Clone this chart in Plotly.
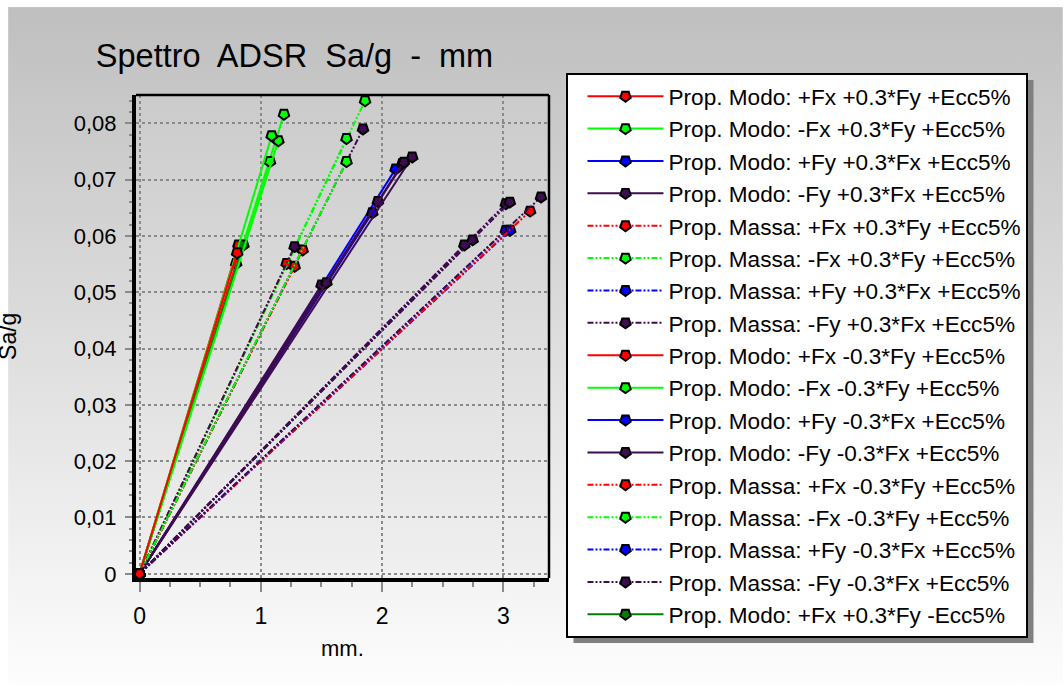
import base64
import plotly.graph_objects as go

# ---------------- data ----------------
labels = [
    "Prop. Modo: +Fx +0.3*Fy +Ecc5%",
    "Prop. Modo: -Fx +0.3*Fy +Ecc5%",
    "Prop. Modo: +Fy +0.3*Fx +Ecc5%",
    "Prop. Modo: -Fy +0.3*Fx +Ecc5%",
    "Prop. Massa: +Fx +0.3*Fy +Ecc5%",
    "Prop. Massa: -Fx +0.3*Fy +Ecc5%",
    "Prop. Massa: +Fy +0.3*Fx +Ecc5%",
    "Prop. Massa: -Fy +0.3*Fx +Ecc5%",
    "Prop. Modo: +Fx -0.3*Fy +Ecc5%",
    "Prop. Modo: -Fx -0.3*Fy +Ecc5%",
    "Prop. Modo: +Fy -0.3*Fx +Ecc5%",
    "Prop. Modo: -Fy -0.3*Fx +Ecc5%",
    "Prop. Massa: +Fx -0.3*Fy +Ecc5%",
    "Prop. Massa: -Fx -0.3*Fy +Ecc5%",
    "Prop. Massa: +Fy -0.3*Fx +Ecc5%",
    "Prop. Massa: -Fy -0.3*Fx +Ecc5%",
    "Prop. Modo: +Fx +0.3*Fy -Ecc5%",
    "Prop. Modo: -Fx +0.3*Fy -Ecc5%",
    "Prop. Modo: +Fy +0.3*Fx -Ecc5%",
    "Prop. Modo: -Fy +0.3*Fx -Ecc5%",
    "Prop. Massa: +Fx +0.3*Fy -Ecc5%",
    "Prop. Massa: -Fx +0.3*Fy -Ecc5%",
    "Prop. Massa: +Fy +0.3*Fx -Ecc5%",
    "Prop. Massa: -Fy +0.3*Fx -Ecc5%",
    "Prop. Modo: +Fx -0.3*Fy -Ecc5%",
    "Prop. Modo: -Fx -0.3*Fy -Ecc5%",
    "Prop. Modo: +Fy -0.3*Fx -Ecc5%",
    "Prop. Modo: -Fy -0.3*Fx -Ecc5%",
    "Prop. Massa: +Fx -0.3*Fy -Ecc5%",
    "Prop. Massa: -Fx -0.3*Fy -Ecc5%",
    "Prop. Massa: +Fy -0.3*Fx -Ecc5%",
    "Prop. Massa: -Fy -0.3*Fx -Ecc5%",
]
# end point of every curve (each curve starts at the origin)
disp_mm = [0.816, 1.191, 2.112, 2.167, 1.213, 1.860, 3.021, 3.021,
           0.797, 1.076, 1.920, 1.966, 1.279, 1.707, 3.057, 2.679,
           0.857, 1.145, 1.501, 2.249, 1.345, 1.843, 3.221, 3.311,
           0.805, 1.090, 1.542, 2.180, 1.279, 1.707, 2.747, 3.054]
sa_g = [0.0584, 0.0816, 0.0719, 0.0728, 0.0551, 0.0840, 0.0610, 0.0657,
        0.0551, 0.0732, 0.0641, 0.0661, 0.0546, 0.0773, 0.0610, 0.0584,
        0.0584, 0.0769, 0.0513, 0.0740, 0.0575, 0.0790, 0.0644, 0.0669,
        0.0570, 0.0778, 0.0517, 0.0731, 0.0581, 0.0732, 0.0593, 0.0660]
legend_count = 17

y_tickvals = [0, 0.01, 0.02, 0.03, 0.04, 0.05, 0.06, 0.07, 0.08]
y_ticktext = ["0", "0,01", "0,02", "0,03", "0,04", "0,05", "0,06", "0,07", "0,08"]
x_tickvals = [0, 1, 2, 3]
x_ticktext = ["0", "1", "2", "3"]

# ---------------- styles ----------------
RED, GRN, BLU, PUR, DGR = "#ff0000", "#00ff00", "#0000ff", "#3e0c50", "#008000"
SOLID, DD = "solid", "6px,2px,2px,2px,2px,2px"
colors = [RED, GRN, BLU, PUR, RED, GRN, BLU, PUR,
          RED, GRN, BLU, PUR, RED, GRN, BLU, PUR,
          DGR, GRN, PUR, PUR, RED, PUR, RED, PUR,
          RED, GRN, PUR, PUR, PUR, GRN, PUR, PUR]
dashes = [SOLID, SOLID, SOLID, SOLID, DD, DD, DD, DD,
          SOLID, SOLID, SOLID, SOLID, DD, DD, DD, DD,
          SOLID, SOLID, SOLID, SOLID, DD, DD, DD, DD,
          SOLID, SOLID, SOLID, SOLID, DD, DD, DD, DD]

W, H = 1064, 686
PL, PR, PT, PB = 136, 549.5, 95, 578.5
X_RANGE = [-0.029, 3.377]
Y_RANGE = [-0.000745, 0.08502]


def px2x(px):
    return (px - PL) / (PR - PL)


def py2y(py):
    return (PB - py) / (PB - PT)


FONT = "Liberation Sans, Arial, sans-serif"

fig = go.Figure()
order = list(range(legend_count)) + [i for i in range(legend_count, len(labels)) if i != 24] + [24]
for i in order:
    fig.add_trace(go.Scatter(
        x=[0, disp_mm[i]], y=[0, sa_g[i]],
        mode="lines+markers", name=labels[i],
        showlegend=i < legend_count,
        line=dict(color=colors[i], width=2, dash=dashes[i]),
        marker=dict(symbol="pentagon", angle=180, size=11, color=colors[i],
                    line=dict(color="black", width=2)),
    ))


def grad_svg(w, h, c0, c1, border=None):
    inner = f'<rect x="0" y="0" width="{w}" height="{h}" fill="url(#g)"/>'
    if border:
        bx, by = border
        inner = (f'<rect x="0" y="0" width="{w}" height="{h}" fill="#ffffff"/>'
                 f'<rect x="{bx}" y="{by}" width="{w - bx}" height="{h - by}" fill="url(#g)"/>')
    svg = (f'<svg xmlns="http://www.w3.org/2000/svg" width="{w}" height="{h}" '
           f'viewBox="0 0 {w} {h}" preserveAspectRatio="none"><defs>'
           f'<linearGradient id="g" x1="0" y1="0" x2="0" y2="1">'
           f'<stop offset="0" stop-color="{c0}"/><stop offset="1" stop-color="{c1}"/>'
           f'</linearGradient></defs>{inner}</svg>')
    return "data:image/svg+xml;base64," + base64.b64encode(svg.encode()).decode()


images = [
    dict(source=grad_svg(W, H, "#bfbfbf", "#fdfdfd", border=(8, 7)), xref="paper", yref="paper",
         x=px2x(0), y=py2y(0), sizex=px2x(W) - px2x(0), sizey=py2y(0) - py2y(H),
         xanchor="left", yanchor="top", sizing="stretch", layer="below"),
    dict(source=grad_svg(int(PR - PL), int(PB - PT), "#cbcbcb", "#f0f0f0"), xref="paper", yref="paper",
         x=0, y=1, sizex=1, sizey=1, xanchor="left", yanchor="top",
         sizing="stretch", layer="below"),
]

shapes = [
    # top and right frame of plot area
    dict(type="line", xref="paper", yref="paper", x0=0, x1=1, y0=1, y1=1,
         line=dict(color="black", width=2.5), layer="above"),
    dict(type="line", xref="paper", yref="paper", x0=1, x1=1, y0=0, y1=1,
         line=dict(color="black", width=2.5), layer="above"),
]

annotations = [
    dict(text="mm.", xref="paper", yref="paper", x=px2x(342.5), y=py2y(649.5),
         showarrow=False, xanchor="center", yanchor="middle",
         font=dict(family=FONT, size=22, color="black")),
    dict(text="Sa/g", xref="paper", yref="paper", x=px2x(8), y=py2y(337),
         showarrow=False, xanchor="center", yanchor="middle", textangle=-90,
         font=dict(family=FONT, size=23, color="black")),
]

GRID = "#8a8a8a"
fig.update_layout(
    width=W, height=H,
    margin=dict(l=PL, r=W - PR, t=PT, b=H - PB, pad=0, autoexpand=False),
    paper_bgcolor="white", plot_bgcolor="rgba(0,0,0,0)",
    title=dict(text="Spettro\u00a0 ADSR\u00a0 Sa/g\u00a0 -\u00a0 mm", x=294.5 / W, xanchor="center",
               y=1 - 56 / H, yanchor="middle",
               font=dict(family=FONT, size=32.5, color="black")),
    xaxis=dict(range=X_RANGE, tickvals=x_tickvals, ticktext=x_ticktext, automargin=False,
               showline=True, linecolor="black", linewidth=4, mirror=False,
               showgrid=True, gridcolor=GRID, griddash="dot", gridwidth=2,
               zeroline=False, ticks="outside", ticklen=10, tickwidth=2, tickcolor=GRID,
               ticklabelstandoff=4,
               minor=dict(dtick=0.25, ticks="outside", ticklen=5, tickwidth=2,
                          tickcolor=GRID, showgrid=False),
               tickfont=dict(family=FONT, size=23, color="black")),
    yaxis=dict(range=Y_RANGE, tickvals=y_tickvals, ticktext=y_ticktext, automargin=False,
               showline=True, linecolor="black", linewidth=4, mirror=False,
               showgrid=True, gridcolor=GRID, griddash="dot", gridwidth=2,
               zeroline=False, ticks="outside", ticklen=7, tickwidth=2, tickcolor=GRID,
               ticklabelstandoff=4,
               minor=dict(dtick=0.002, ticks="outside", ticklen=3, tickwidth=2,
                          tickcolor=GRID, showgrid=False),
               tickfont=dict(family=FONT, size=22, color="black")),
    legend=dict(x=px2x(567), y=py2y(73), xanchor="left", yanchor="top",
                bgcolor="white", bordercolor="black", borderwidth=2,
                itemwidth=76, indentation=14, tracegroupgap=0, maxheight=680,
                font=dict(family=FONT, size=22.6, color="black")),
    images=images, shapes=shapes, annotations=annotations,
)

# page margin reset; fit the legend box to its longest label and add a 6px drop shadow
post = """
document.body.style.margin='0px';document.body.style.overflow='hidden';
var gd=document.getElementById('{plot_id}');
function fixLegend(){
  var lg=gd.querySelector('g.legend'); if(!lg) return;
  var bg=lg.querySelector('rect.bg'); if(!bg) return;
  var L=bg.getBoundingClientRect().left, R=L;
  lg.querySelectorAll('text.legendtext').forEach(function(t){
    var n=t.getComputedTextLength ? t.getComputedTextLength() : 0;
    var r=t.getBoundingClientRect().left+n; if(r>R) R=r;});
  var w=R-L+9;
  var cur=parseFloat(bg.getAttribute('width'))||0;
  if(w>60 && w<cur) bg.setAttribute('width', w);
  var s=lg.querySelector('rect.legshadow');
  if(!s){s=document.createElementNS('http://www.w3.org/2000/svg','rect');
         s.setAttribute('class','legshadow'); lg.insertBefore(s, lg.firstChild);}
  s.setAttribute('x', bg.getAttribute('x')); s.setAttribute('y', bg.getAttribute('y'));
  s.setAttribute('height', bg.getAttribute('height')); s.setAttribute('width', bg.getAttribute('width'));
  s.setAttribute('transform','translate(6,6)'); s.style.fill='#7f7f7f'; s.style.stroke='none';
}
fixLegend();
gd.on('plotly_afterplot', fixLegend);
setTimeout(fixLegend, 50); setTimeout(fixLegend, 400);
"""
fig.write_html("out.html", config={"displayModeBar": False}, post_script=post)
